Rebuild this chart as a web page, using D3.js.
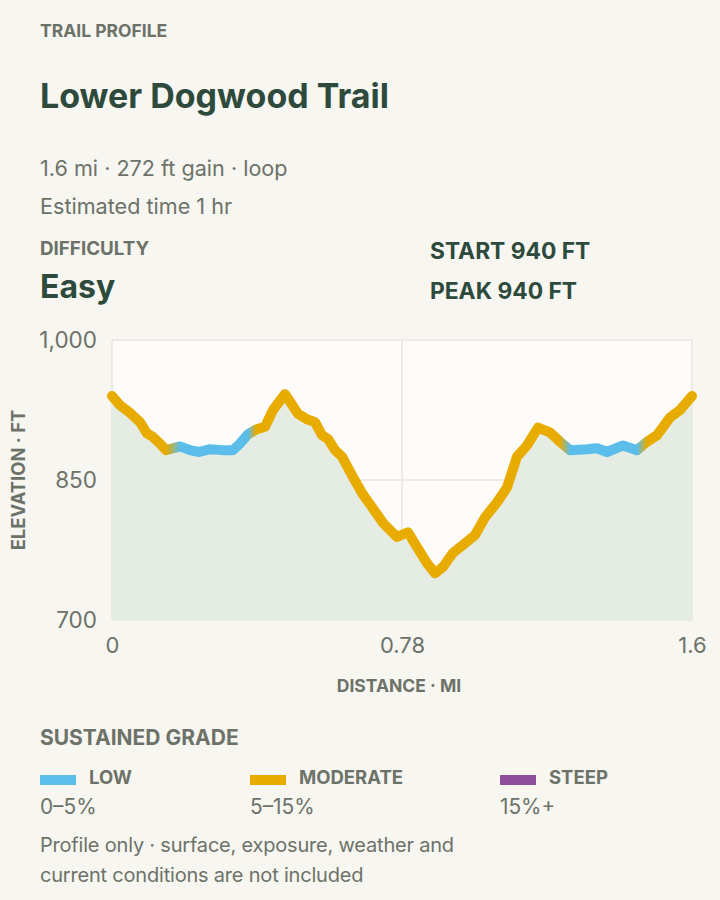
<!DOCTYPE html>
<html>
<head>
<meta charset="utf-8">
<script src="https://cdn.jsdelivr.net/npm/d3@7"></script>
<style>
  html, body { margin: 0; padding: 0; background: #f7f6f1; }
  svg { display: block; }
  text { font-family: Inter, "Noto Sans", sans-serif; }
</style>
</head>
<body>
<svg id="chart" width="720" height="900"></svg>
<script>
// ---- data ----
const distanceMi = [0, 0.0215, 0.0484, 0.0753, 0.0941, 0.1103, 0.1291, 0.1452, 0.1829, 0.2098,
  0.2340, 0.2636, 0.2959, 0.3255, 0.3443, 0.3658, 0.3873, 0.4115, 0.4330, 0.4653,
  0.5003, 0.5245, 0.5460, 0.5648, 0.5810, 0.5998, 0.6186, 0.6455, 0.6724, 0.6993,
  0.7289, 0.7665, 0.7961, 0.8203, 0.8472, 0.8688, 0.8903, 0.9172, 0.9549, 0.9764,
  1.0033, 1.0356, 1.0624, 1.0893, 1.1162, 1.1458, 1.1781, 1.2050, 1.2319, 1.2776,
  1.3045, 1.3314, 1.3744, 1.4121, 1.4390, 1.4659, 1.5008, 1.5277, 1.56];
const elevationFt = [940, 930, 922, 912, 900, 896, 889, 882, 886, 882,
  880, 883, 882, 882, 889, 899, 904, 907, 925, 942,
  921, 915, 912, 898, 894, 882, 875, 855, 836, 821,
  804, 789, 794, 778, 761, 750, 757, 772, 784, 791,
  810, 826, 842, 875, 887, 906, 901, 891, 882, 883,
  884, 880, 887, 882, 891, 898, 917, 925, 940];
// grade class of each sample point (smoothed "sustained grade")
const gradeClass = ["mod","mod","mod","mod","mod","mod","mod","mod","low","low",
  "low","low","low","low","low","low","mod","mod","mod","mod",
  "mod","mod","mod","mod","mod","mod","mod","mod","mod","mod",
  "mod","mod","mod","mod","mod","mod","mod","mod","mod","mod",
  "mod","mod","mod","mod","mod","mod","mod","mod","low","low",
  "low","low","low","low","mod","mod","mod","mod","mod"];

const gradeKeys = ["low", "mod", "steep"];
const gradeNames = ["LOW", "MODERATE", "STEEP"];
const gradeRanges = ["0–5%", "5–15%", "15%+"];
const gradeColors = ["#5bbdea", "#e8ab00", "#8e4e9c"];

const xTicks = [0, 0.78, 1.56];
const xTickLabels = ["0", "0.78", "1.6"];
const yTicks = [700, 850, 1000];
const yTickLabels = ["700", "850", "1,000"];

const header = {
  kicker: "TRAIL PROFILE",
  title: "Lower Dogwood Trail",
  sub1: "1.6 mi · 272 ft gain · loop",
  sub2: "Estimated time 1 hr",
  diffLabel: "DIFFICULTY",
  diffValue: "Easy",
  start: "START 940 FT",
  peak: "PEAK 940 FT"
};
const footnote = ["Profile only · surface, exposure, weather and", "current conditions are not included"];

// ---- drawing ----
const svg = d3.select("#chart");
const gray = "#6d7269";
const dark = "#2d4a3c";

const x = d3.scaleLinear().domain([0, 1.56]).range([112, 692]);
const y = d3.scaleLinear().domain([700, 1000]).range([620, 340]);
const colorOf = d3.scaleOrdinal().domain(gradeKeys).range(gradeColors);

function txt(xp, yp, s, size, weight, fill) {
  return svg.append("text").attr("x", xp).attr("y", yp).attr("fill", fill)
    .attr("font-size", size).attr("font-weight", weight).text(s);
}

// header text
txt(40, 37, header.kicker, 17.5, 700, gray);
txt(40, 108, header.title, 34, 700, dark);
txt(40, 176, header.sub1, 21.6, 400, gray);
txt(40, 214, header.sub2, 21.6, 400, gray);
txt(40, 255, header.diffLabel, 18.8, 700, gray);
txt(40, 298, header.diffValue, 32, 700, dark);
txt(430, 259, header.start, 22.8, 700, dark);
txt(430, 299, header.peak, 22.8, 700, dark);

// plot background
svg.append("rect").attr("x", x(0)).attr("y", y(1000))
  .attr("width", x(1.56) - x(0)).attr("height", y(700) - y(1000))
  .attr("fill", "#fdfcfa");

// gridlines
const grid = svg.append("g");
grid.selectAll("line.h").data(yTicks).join("line").attr("class", "h")
  .attr("x1", x(0)).attr("x2", x(1.56)).attr("y1", d => y(d)).attr("y2", d => y(d))
  .attr("stroke", "#ecebe6").attr("stroke-width", 2);
grid.selectAll("line.v").data(xTicks).join("line").attr("class", "v")
  .attr("y1", y(700)).attr("y2", y(1000)).attr("x1", d => x(d)).attr("x2", d => x(d))
  .attr("stroke", "#ecebe6").attr("stroke-width", 2);

const pts = distanceMi.map((d, i) => ({ d, e: elevationFt[i], g: gradeClass[i] }));

// area
const area = d3.area().x(p => x(p.d)).y0(y(700)).y1(p => y(p.e));
svg.append("path").datum(pts).attr("d", area).attr("fill", "#e4ece4");

// gradient for the line
const defs = svg.append("defs");
const grad = defs.append("linearGradient").attr("id", "gradeGrad")
  .attr("gradientUnits", "userSpaceOnUse")
  .attr("x1", x(0)).attr("x2", x(1.56)).attr("y1", 0).attr("y2", 0);
grad.selectAll("stop").data(pts).join("stop")
  .attr("offset", p => (p.d / 1.56))
  .attr("stop-color", p => colorOf(p.g));

const line = d3.line().x(p => x(p.d)).y(p => y(p.e));
svg.append("path").datum(pts).attr("d", line)
  .attr("fill", "none").attr("stroke", "url(#gradeGrad)")
  .attr("stroke-width", 10).attr("stroke-linejoin", "round").attr("stroke-linecap", "round");

// axes
const yAxis = svg.append("g").attr("transform", `translate(${x(0) - 15},0)`)
  .call(d3.axisLeft(y).tickValues(yTicks).tickSize(0).tickPadding(0)
    .tickFormat((d, i) => yTickLabels[i]));
yAxis.select(".domain").remove();
yAxis.selectAll("text").attr("font-family", "Inter").attr("font-size", 22.5)
  .attr("fill", gray).attr("dy", "0.35em");

const xAxis = svg.append("g").attr("transform", `translate(0,${y(700) + 16})`)
  .call(d3.axisBottom(x).tickValues(xTicks).tickSize(0).tickPadding(0)
    .tickFormat((d, i) => xTickLabels[i]));
xAxis.select(".domain").remove();
xAxis.selectAll("text").attr("font-family", "Inter").attr("font-size", 22)
  .attr("fill", gray).attr("dy", "0.78em");

svg.append("text").attr("transform", `translate(25,480) rotate(-90)`)
  .attr("text-anchor", "middle").attr("fill", gray)
  .attr("font-size", 18.4).attr("font-weight", 700).text("ELEVATION · FT");
svg.append("text").attr("x", 399).attr("y", 692)
  .attr("text-anchor", "middle").attr("fill", gray)
  .attr("font-size", 17.5).attr("font-weight", 700).text("DISTANCE · MI");

// legend
txt(40, 745, "SUSTAINED GRADE", 21, 700, gray);
const legX = [40, 250, 500];
const leg = svg.selectAll("g.leg").data(gradeKeys).join("g").attr("class", "leg")
  .attr("transform", (d, i) => `translate(${legX[i]},0)`);
leg.append("rect").attr("x", 0).attr("y", 775).attr("width", 36).attr("height", 10)
  .attr("fill", d => colorOf(d));
leg.append("text").attr("x", 49).attr("y", 784).attr("fill", gray)
  .attr("font-size", 18.5).attr("font-weight", 700).text((d, i) => gradeNames[i]);
leg.append("text").attr("x", 0).attr("y", 814).attr("fill", gray)
  .attr("font-size", 20.8).text((d, i) => gradeRanges[i]);

svg.selectAll("text.foot").data(footnote).join("text").attr("class", "foot")
  .attr("x", 40).attr("y", (d, i) => 852 + i * 30).attr("fill", gray)
  .attr("font-size", 20).attr("letter-spacing", -0.2).text(d => d);
</script>
</body>
</html>
